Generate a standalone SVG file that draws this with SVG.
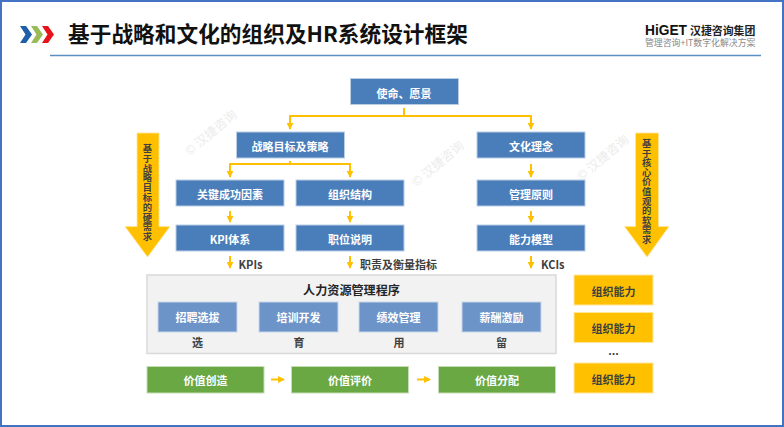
<svg xmlns="http://www.w3.org/2000/svg" width="784" height="427" viewBox="0 0 784 427">
<defs>
<marker id="ah" viewBox="0 0 8 8" refX="7" refY="4" markerWidth="3.4" markerHeight="3.4" orient="auto"><path d="M0 0L8 4L0 8Z" fill="#ffc000"/></marker>
</defs>
<style>
text{font-family:"Noto Sans CJK SC","Liberation Sans",sans-serif;text-anchor:middle;dominant-baseline:central}
.b{fill:#4a7ebb;stroke:#b9cde5;stroke-width:1}
.l{fill:#6c94c9;stroke:#c6d6ea;stroke-width:1}
.g{fill:#69a843;stroke:#c5dcb6;stroke-width:1}
.o{fill:#ffc000;stroke:#ffe699;stroke-width:1}
.w{fill:#fff;font-size:11px;font-weight:700}
.d{fill:#404040;font-size:11px;font-weight:700}
.y{fill:#404040;font-size:9.300px;font-weight:700}
.c{fill:none;stroke:#ffc000;stroke-width:2}
.a{marker-end:url(#ah)}
.m{fill:#ececec;font-size:12.5px}
</style>
<rect width="784" height="427" fill="#fff"/>
<rect x="1" y="1" width="782" height="425" fill="none" stroke="#4472c4" stroke-width="2"/>

<g id="header">
<path d="M20 26l6 0 6 8.500-6 8.500-6 0 5.500-8.500z" fill="#1f5fa8"/>
<path d="M31 26l6 0 6 8.500-6 8.500-6 0 5.500-8.500z" fill="#9bbb59"/>
<path d="M42 26l6 0 6 8.500-6 8.500-6 0 5.500-8.500z" fill="#e8121b"/>
<text x="68" y="32" style="text-anchor:start;font-size:21.700px;font-weight:700;fill:#111">基于战略和文化的组织及HR系统设计框架</text>
<line x1="50" y1="55.500" x2="761" y2="55.500" stroke="#5b8fc4" stroke-width="1.300"/>
<text x="645" y="29.500" textLength="42" lengthAdjust="spacingAndGlyphs" style="text-anchor:start;font-size:15px;font-weight:700;fill:#111;font-family:'Liberation Sans',sans-serif">HiGET</text>
<text x="690" y="30" style="text-anchor:start;font-size:10.900px;font-weight:700;fill:#222">汉捷咨询集团</text>
<text x="645" y="42" style="text-anchor:start;font-size:8.900px;fill:#888">管理咨询+IT数字化解决方案</text>
</g>

<g id="watermarks">
<text class="m" transform="translate(210 132) rotate(-40)">© 汉捷咨询</text>
<text class="m" transform="translate(437 163) rotate(-40)">© 汉捷咨询</text>
<text class="m" transform="translate(602 157) rotate(-40)">© 汉捷咨询</text>
</g>

<g id="connectors">
<path class="c" d="M404 108V116"/>
<path class="c a" d="M404 116H290V129"/>
<path class="c a" d="M404 116H531V129"/>
<path class="c" d="M290 161V164"/>
<path class="c a" d="M290 164H230V177"/>
<path class="c a" d="M290 164H350V177"/>
<path class="c a" d="M531 164V177"/>
<path class="c a" d="M230 211V222"/>
<path class="c a" d="M350 211V222"/>
<path class="c a" d="M531 211V222"/>
<path class="c a" d="M230 256V268"/>
<path class="c a" d="M350 256V268"/>
<path class="c a" d="M531 256V268"/>
<path class="c a" d="M242 317.500H254"/>
<path class="c a" d="M343 317.500H355"/>
<path class="c a" d="M444 317.500H456"/>
<path class="c a" d="M271 379.500H284"/>
<path class="c a" d="M417 379.500H430"/>
</g>

<g id="n-mission"><rect class="b" x="350.500" y="78.500" width="108" height="26"/><text class="w" x="404" y="92.500">使命、愿景</text></g>
<g id="n-strategy"><rect class="b" x="236.500" y="132" width="108" height="26"/><text class="w" x="290" y="145.500">战略目标及策略</text></g>
<g id="n-culture"><rect class="b" x="477" y="132" width="108" height="26"/><text class="w" x="531" y="145.500">文化理念</text></g>
<g id="n-csf"><rect class="b" x="176" y="180" width="108" height="26"/><text class="w" x="230" y="193.500">关键成功因素</text></g>
<g id="n-org"><rect class="b" x="296" y="180" width="108" height="26"/><text class="w" x="350" y="193.500">组织结构</text></g>
<g id="n-principle"><rect class="b" x="477" y="180" width="108" height="26"/><text class="w" x="531" y="193.500">管理原则</text></g>
<g id="n-kpi"><rect class="b" x="176" y="225" width="108" height="26"/><text class="w" x="230" y="238.500">KPI体系</text></g>
<g id="n-job"><rect class="b" x="296" y="225" width="108" height="26"/><text class="w" x="350" y="238.500">职位说明</text></g>
<g id="n-competency"><rect class="b" x="477" y="225" width="108" height="26"/><text class="w" x="531" y="238.500">能力模型</text></g>

<g id="labels">
<text class="d" x="238.500" y="263.500" style="text-anchor:start">KPIs</text>
<text class="d" x="360" y="263.500" style="text-anchor:start">职责及衡量指标</text>
<text class="d" x="541" y="263.500" style="text-anchor:start">KCIs</text>
</g>

<g id="n-hr"><rect x="147" y="275" width="409" height="78.500" fill="#f2f2f2" stroke="#d9d9d9" stroke-width="1.500"/><text x="351.500" y="289" style="font-size:12.100px;font-weight:700;fill:#262626">人力资源管理程序</text></g>
<g id="n-s1"><rect class="l" x="158" y="302" width="79" height="30"/><text class="w" x="197.500" y="317">招聘选拔</text><text class="d" x="197.500" y="342">选</text></g>
<g id="n-s2"><rect class="l" x="259" y="302" width="79" height="30"/><text class="w" x="298.500" y="317">培训开发</text><text class="d" x="299" y="342">育</text></g>
<g id="n-s3"><rect class="l" x="359" y="302" width="79" height="30"/><text class="w" x="398.500" y="317">绩效管理</text><text class="d" x="399" y="342">用</text></g>
<g id="n-s4"><rect class="l" x="462" y="302" width="79" height="30"/><text class="w" x="501.500" y="317">薪酬激励</text><text class="d" x="501.500" y="342">留</text></g>

<g id="n-v1"><rect class="g" x="147" y="366.500" width="117" height="26.500"/><text class="w" x="205.500" y="380">价值创造</text></g>
<g id="n-v2"><rect class="g" x="291.500" y="366.500" width="117" height="26.500"/><text class="w" x="350" y="380">价值评价</text></g>
<g id="n-v3"><rect class="g" x="438.500" y="366.500" width="117" height="26.500"/><text class="w" x="497" y="380">价值分配</text></g>

<g id="n-c1"><rect class="o" x="574" y="275" width="79" height="30"/><text class="d" x="613.500" y="291">组织能力</text></g>
<g id="n-c2"><rect class="o" x="574" y="312.500" width="79" height="30"/><text class="d" x="613.500" y="328">组织能力</text></g>
<text class="d" x="613.500" y="349.500">...</text>
<g id="n-c3"><rect class="o" x="574" y="363" width="79" height="30"/><text class="d" x="613.500" y="379">组织能力</text></g>

<g id="n-hard"><path class="o" style="stroke-width:.8" d="M137 133H159V226.500H170L147.500 257L125 226.500H137Z"/><text class="y" x="147.300 147.300 147.300 147.300 147.300 147.300 147.300 147.300 147.300 147.300" y="148 157.800 167.600 177.400 187.200 197 206.800 216.600 226.400 236.200">基于战略目标的硬需求</text></g>
<g id="n-soft"><path class="o" style="stroke-width:.8" d="M635.500 133H658.500V226.500H669L647 257L624.500 226.500H635.500Z"/><text class="y" x="646.700 646.700 646.700 646.700 646.700 646.700 646.700 646.700 646.700 646.700 646.700" y="143 152.600 162.200 171.800 181.400 191 200.600 210.200 219.800 229.400 239">基于核心价值观的软需求</text></g>
</svg>
